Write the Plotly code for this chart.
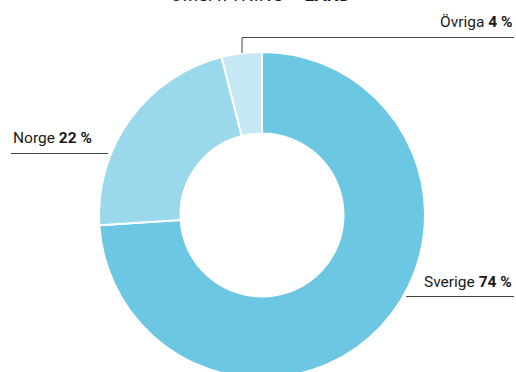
import plotly.graph_objects as go

# data
lander = ["Sverige", "Norge", "Övriga"]
andel = [74, 22, 4]
farger = ["#6cc7e2", "#9ad8eb", "#c6e8f4"]

W, H = 516, 380
font = "Liberation Sans Narrow, Roboto, Arial, sans-serif"

fig = go.Figure()

fig.add_trace(go.Pie(
    labels=lander,
    values=andel,
    sort=False,
    direction="clockwise",
    rotation=0,
    hole=0.5,
    textinfo="none",
    hoverinfo="label+percent",
    marker=dict(colors=farger, line=dict(color="white", width=2)),
    domain=dict(x=[99 / W, 425 / W], y=[(H - 378) / H, (H - 52) / H]),
    showlegend=False,
))

# labels with leader lines (pixel positions converted to paper coords)
def px(x):
    return x / W

def py(y):
    return 1 - y / H

labels = [
    (f"Övriga <b>{andel[2]} %</b>", 514, 33, "right"),
    (f"Norge <b>{andel[1]} %</b>", 11, 149, "left"),
    (f"Sverige <b>{andel[0]} %</b>", 514, 293, "right"),
]
for txt, x, y, anchor in labels:
    fig.add_annotation(text=txt, x=px(x), y=py(y), xref="paper", yref="paper",
                       xanchor=anchor, yanchor="bottom", showarrow=False,
                       font=dict(family=font, size=15.5, color="#1a1a1a"))

line = dict(color="#444444", width=1)
fig.add_shape(type="line", xref="paper", yref="paper", x0=px(242), x1=px(514), y0=py(37.5), y1=py(37.5), line=line)
fig.add_shape(type="line", xref="paper", yref="paper", x0=px(242), x1=px(242), y0=py(37.5), y1=py(53), line=line)
fig.add_shape(type="line", xref="paper", yref="paper", x0=px(11), x1=px(108), y0=py(153.5), y1=py(153.5), line=line)
fig.add_shape(type="line", xref="paper", yref="paper", x0=px(406), x1=px(514), y0=py(296.5), y1=py(296.5), line=line)

# title, mostly cut off above the picture
fig.add_annotation(text="OMSÄTTNING – <b>LAND</b>", x=px(260), y=py(7), xref="paper", yref="paper",
                   xanchor="center", yanchor="bottom", showarrow=False,
                   font=dict(family=font, size=18, color="#1a1a1a"))

fig.update_layout(
    width=W,
    height=H,
    margin=dict(l=0, r=0, t=0, b=0),
    paper_bgcolor="white",
    plot_bgcolor="white",
)

# drop the default page margin so the figure sits at the window corner
fig.write_html("out.html", config={"displayModeBar": False},
               post_script="document.body.style.margin='0';document.body.style.overflow='hidden';")
